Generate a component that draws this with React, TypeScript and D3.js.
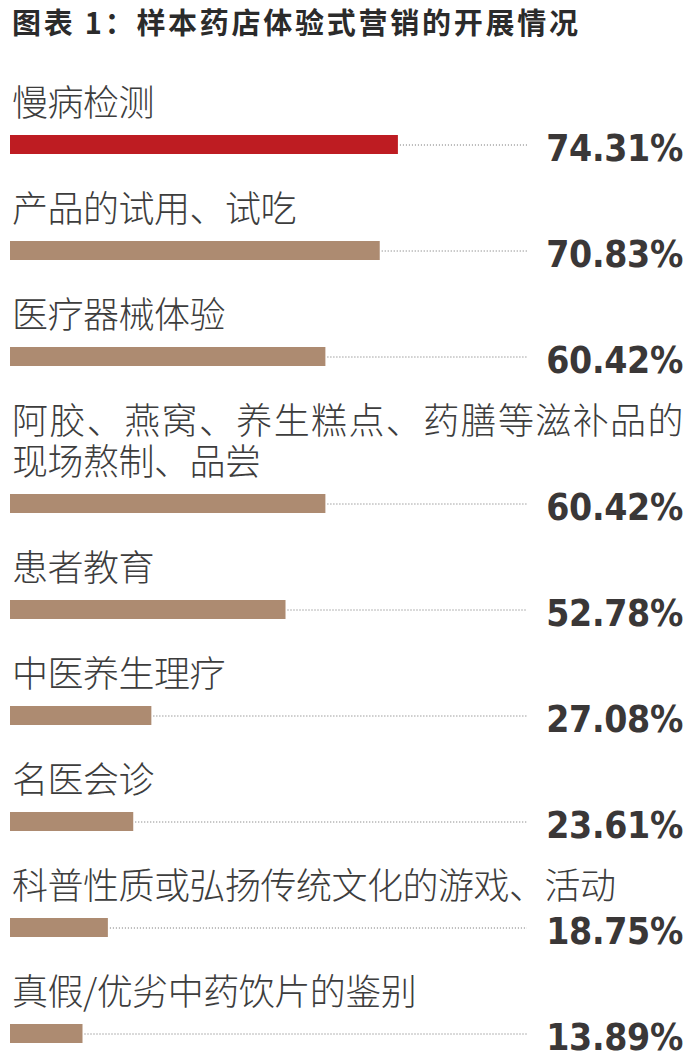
import { useRef, useEffect } from 'react';
import * as d3 from 'd3';

const title = '图表 1：样本药店体验式营销的开展情况';

const labels: string[][] = [
  ['慢病检测'],
  ['产品的试用、试吃'],
  ['医疗器械体验'],
  ['阿胶、燕窝、养生糕点、药膳等滋补品的', '现场熬制、品尝'],
  ['患者教育'],
  ['中医养生理疗'],
  ['名医会诊'],
  ['科普性质或弘扬传统文化的游戏、活动'],
  ['真假/优劣中药饮片的鉴别'],
];

const values = [74.31, 70.83, 60.42, 60.42, 52.78, 27.08, 23.61, 18.75, 13.89];

const WIDTH = 698;
const HEIGHT = 1060;

export default function App() {
  const svgRef = useRef<SVGSVGElement>(null);

  useEffect(() => {
    if (!svgRef.current) return;
    const svg = d3.select(svgRef.current);
    svg.selectAll('*').remove();

    const x = d3.scaleLinear().domain([0, 100]).range([10, 532]);
    const barH = 19;
    const rowGap = 106;
    const lineH = 41;
    const cjk = '"Noto Sans CJK SC", "Noto Sans", sans-serif';

    // title
    svg.append('text')
      .attr('x', 12)
      .attr('y', 34)
      .attr('font-family', cjk)
      .attr('font-size', 29)
      .attr('font-weight', 700)
      .attr('fill', '#2b2b2b')
      .attr('textLength', 566)
      .attr('lengthAdjust', 'spacing')
      .text(title);

    // row positions
    let top = 135;
    const rows = labels.map((lines, i) => {
      if (i > 0) top += rowGap + (lines.length - 1) * lineH;
      return { lines, value: values[i], barTop: top, i };
    });

    const g = svg.selectAll('g.row').data(rows).enter().append('g').attr('class', 'row');

    // labels
    g.each(function (d) {
      const sel = d3.select(this);
      d.lines.forEach((line, j) => {
        const t = sel.append('text')
          .attr('x', 12)
          .attr('y', d.barTop - 19.5 - (d.lines.length - 1 - j) * lineH)
          .attr('font-family', cjk)
          .attr('font-size', 36)
          .attr('font-weight', 300)
          .attr('letter-spacing', -0.5)
          .attr('fill', '#3d3d3d')
          .text(line);
        if (d.lines.length > 1 && j === 0) {
          t.attr('textLength', 671).attr('lengthAdjust', 'spacing');
        }
      });
    });

    // bars
    g.append('rect')
      .attr('x', x(0))
      .attr('y', d => d.barTop)
      .attr('width', d => x(d.value) - x(0))
      .attr('height', barH)
      .attr('fill', d => (d.i === 0 ? '#be1c22' : '#ad8b71'));

    // dotted leaders
    g.append('line')
      .attr('x1', d => x(d.value) + 2)
      .attr('x2', 527)
      .attr('y1', d => d.barTop + barH / 2 + 0.5)
      .attr('y2', d => d.barTop + barH / 2 + 0.5)
      .attr('stroke', '#6e6e6e')
      .attr('stroke-width', 1)
      .attr('stroke-dasharray', '1,2');

    // values
    g.append('text')
      .attr('x', 683)
      .attr('y', d => d.barTop + 26)
      .attr('text-anchor', 'end')
      .attr('font-family', '"DejaVu Sans Condensed", "DejaVu Sans", sans-serif')
      .attr('font-stretch', 'condensed')
      .attr('font-size', 37)
      .attr('font-weight', 700)
      .attr('letter-spacing', -0.3)
      .attr('fill', '#3a3737')
      .text(d => `${d.value.toFixed(2)}%`);
  }, []);

  return (
    <svg
      ref={svgRef}
      width={WIDTH}
      height={HEIGHT}
      style={{ position: 'absolute', left: 0, top: 0, background: '#fff' }}
    />
  );
}
